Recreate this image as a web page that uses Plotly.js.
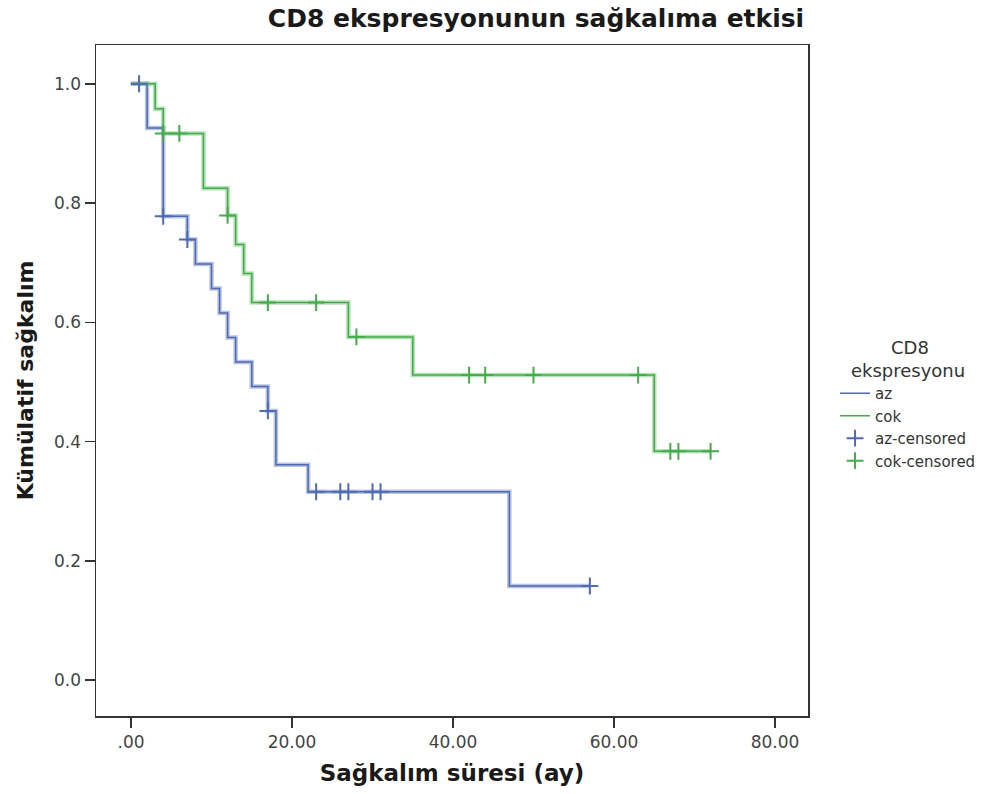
<!DOCTYPE html>
<html>
<head>
<meta charset="utf-8">
<script src="https://cdn.plot.ly/plotly-3.0.1.min.js"></script>
<style>html,body{margin:0;padding:0;background:#fff;}#chart{width:1005px;height:794px;}</style>
</head>
<body>
<div id="chart"></div>
<script>
// Kaplan-Meier step data
const azTimes = [0, 2, 4, 7, 8, 10, 11, 12, 13, 15, 17, 18, 22, 47];
const azSurv  = [1.0, 0.9259, 0.7778, 0.7389, 0.6978, 0.6567, 0.6157, 0.5746, 0.5336, 0.4925, 0.4515, 0.3612, 0.3160, 0.1580];
const azEnd = 57;
const azCensTimes = [1, 4, 7, 17, 23, 26, 27, 30, 31, 57];
const azCensSurv  = [1.0, 0.7778, 0.7389, 0.4515, 0.3160, 0.3160, 0.3160, 0.3160, 0.3160, 0.1580];

const cokTimes = [0, 3, 4, 9, 12, 13, 14, 15, 27, 35, 65];
const cokSurv  = [1.0, 0.9583, 0.9167, 0.8250, 0.7792, 0.7305, 0.6818, 0.6331, 0.5755, 0.5116, 0.3837];
const cokEnd = 72;
const cokCensTimes = [4, 6, 12, 17, 23, 28, 42, 44, 50, 63, 67, 68, 72];
const cokCensSurv  = [0.9167, 0.9167, 0.7792, 0.6331, 0.6331, 0.5755, 0.5116, 0.5116, 0.5116, 0.5116, 0.3837, 0.3837, 0.3837];

const xTickVals = [0, 20, 40, 60, 80];
const xTickText = ['.00', '20.00', '40.00', '60.00', '80.00'];
const yTickVals = [0, 0.2, 0.4, 0.6, 0.8, 1.0];
const yTickText = ['0.0', '0.2', '0.4', '0.6', '0.8', '1.0'];

const blueCore = '#4f69b2', blueHalo = 'rgba(115,135,198,0.5)';
const greenCore = '#45ac4b', greenHalo = 'rgba(110,198,115,0.5)';

function stepX(t, end) { return t.concat([end]); }
function stepY(s) { return s.concat([s[s.length - 1]]); }

const traces = [
  {x: stepX(azTimes, azEnd), y: stepY(azSurv), mode: 'lines', line: {shape: 'hv', color: blueHalo, width: 4.5}, showlegend: false, hoverinfo: 'skip'},
  {x: stepX(cokTimes, cokEnd), y: stepY(cokSurv), mode: 'lines', line: {shape: 'hv', color: greenHalo, width: 4.5}, showlegend: false, hoverinfo: 'skip'},
  {x: stepX(azTimes, azEnd), y: stepY(azSurv), mode: 'lines', name: 'az', line: {shape: 'hv', color: blueCore, width: 1.5}},
  {x: stepX(cokTimes, cokEnd), y: stepY(cokSurv), mode: 'lines', name: 'cok', line: {shape: 'hv', color: greenCore, width: 1.5}},
  {x: azCensTimes, y: azCensSurv, mode: 'markers', name: 'az-censored',
   marker: {symbol: 'cross-thin', size: 12, color: blueCore, line: {color: blueCore, width: 2}}},
  {x: cokCensTimes, y: cokCensSurv, mode: 'markers', name: 'cok-censored',
   marker: {symbol: 'cross-thin', size: 12, color: greenCore, line: {color: greenCore, width: 2}}}
];

const layout = {
  width: 1005, height: 794,
  paper_bgcolor: '#ffffff', plot_bgcolor: '#ffffff',
  margin: {l: 96, r: 197, t: 45, b: 78},
  font: {family: 'DejaVu Sans, sans-serif', color: '#333'},
  title: {text: '<b>CD8 ekspresyonunun sağkalıma etkisi</b>', font: {size: 25, color: '#1a1a1a', family: 'DejaVu Sans, sans-serif'},
          x: 0.618, xref: 'paper', xanchor: 'center', y: 0.977, yref: 'container', yanchor: 'middle'},
  xaxis: {range: [-4.35, 84.1], tickvals: xTickVals, ticktext: xTickText, ticks: 'outside', ticklen: 10, tickwidth: 1.5, tickcolor: '#333',
          showline: true, linecolor: '#333', linewidth: 1.5, mirror: true, showgrid: false, zeroline: false,
          tickfont: {size: 17, color: '#444'},
          title: {text: '<b>Sağkalım süresi (ay)</b>', font: {size: 23, color: '#1a1a1a'}, standoff: 14}},
  yaxis: {range: [-0.06, 1.065], tickvals: yTickVals, ticktext: yTickText, ticks: 'outside', ticklen: 10, tickwidth: 1.5, tickcolor: '#333',
          showline: true, linecolor: '#333', linewidth: 1.5, mirror: true, showgrid: false, zeroline: false,
          tickfont: {size: 17, color: '#444'},
          title: {text: '<b>Kümülatif sağkalım</b>', font: {size: 22, color: '#1a1a1a'}, standoff: 14}},
  legend: {x: 1.038, xanchor: 'left', y: 0.575, yanchor: 'top', bgcolor: 'rgba(0,0,0,0)',
           font: {size: 15, color: '#333'}, tracegroupgap: 0, itemwidth: 30,
           title: {text: '\u00a0\u00a0\u00a0\u00a0\u00a0\u00a0\u00a0CD8<br>ekspresyonu', side: 'top center', font: {size: 18, color: '#333'}}},
  showlegend: true
};

Plotly.newPlot('chart', traces, layout, {displayModeBar: false, staticPlot: true});
</script>
</body>
</html>
